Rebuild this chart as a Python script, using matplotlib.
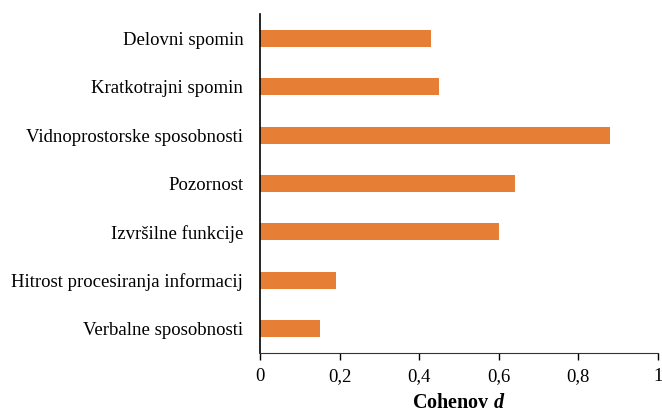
import matplotlib.pyplot as plt

# Podatki
categories = ["Delovni spomin", "Kratkotrajni spomin", "Vidnoprostorske sposobnosti",
              "Pozornost", "Izvršilne funkcije", "Hitrost procesiranja informacij",
              "Verbalne sposobnosti"]
cohen_d = [0.43, 0.45, 0.88, 0.64, 0.60, 0.19, 0.15]
x_ticks = [0, 0.2, 0.4, 0.6, 0.8, 1]
x_tick_labels = ["0", "0,2", "0,4", "0,6", "0,8", "1"]

plt.rcParams['font.family'] = ['Liberation Serif', 'DejaVu Serif']
plt.rcParams['mathtext.fontset'] = 'custom'
plt.rcParams['mathtext.it'] = 'Liberation Serif:bold:italic'
plt.rcParams['mathtext.rm'] = 'Liberation Serif:bold'

fig = plt.figure(figsize=(6.62, 4.13), dpi=100)
ax = fig.add_axes([0.3927, 0.1453, 0.6013, 0.8207])

y_pos = list(range(len(categories)))
ax.barh(y_pos, cohen_d, height=0.35, color='#E67E36')
ax.set_ylim(len(categories) - 0.5, -0.5)
ax.set_yticks(y_pos)
ax.set_yticklabels(categories, fontsize=13.5)
ax.tick_params(axis='y', length=0, pad=12)

ax.set_xlim(0, 1)
ax.set_xticks(x_ticks)
ax.set_xticklabels(x_tick_labels, fontsize=13.5)
ax.tick_params(axis='x', length=5, width=1, direction='out', pad=6)
ax.set_xlabel("Cohenov $d$", fontsize=14.5, fontweight='bold', labelpad=5.5)

for s in ['top', 'right']:
    ax.spines[s].set_visible(False)
ax.spines['left'].set_linewidth(1.2)
ax.spines['bottom'].set_color('#333333')

fig.savefig("out.png", dpi=100)
